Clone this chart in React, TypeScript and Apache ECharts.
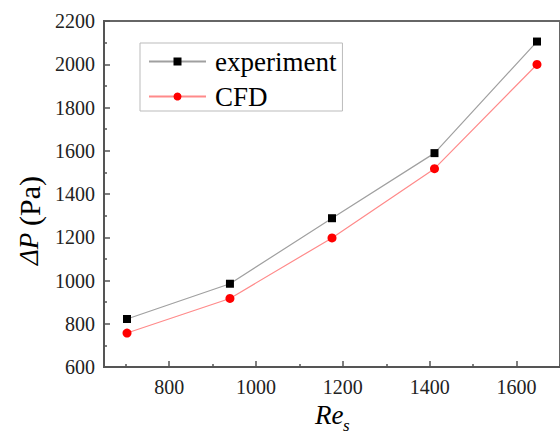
import React, { useEffect, useRef } from "react";
import * as echarts from "echarts";

const reValues = [703, 940, 1175, 1411, 1647];
const experiment = [822, 985, 1288, 1589, 2105];
const cfd = [757, 917, 1197, 1517, 1999];
const xMajorTicks = [800, 1000, 1200, 1400, 1600];
const xMinorTicks = [700, 900, 1100, 1300, 1500, 1700];

const FONT = "Liberation Serif";

export default function App() {
  const ref = useRef<HTMLDivElement>(null);
  useEffect(() => {
    if (!ref.current) return;
    const chart = echarts.init(ref.current, null, { renderer: "svg" });
    chart.setOption({
      animation: false,
      grid: {
        left: 104,
        top: 21,
        bottom: 67,
        right: -8,
        show: true,
        borderColor: "#666",
        borderWidth: 2,
        backgroundColor: "transparent",
      },
      legend: {
        orient: "vertical",
        left: 140,
        top: 43,
        padding: [5, 6, 1, 8],
        itemWidth: 57,
        itemHeight: 10,
        itemGap: 8,
        backgroundColor: "#fff",
        borderColor: "#bbb",
        borderWidth: 1,
        textStyle: {
          fontFamily: FONT,
          fontSize: 27,
          color: "#000",
          lineHeight: 24,
          padding: [0, 0, 0, 4],
        },
        data: ["experiment", "CFD"],
      },
      xAxis: [
        {
          type: "value",
          position: "bottom",
          min: 650,
          max: 1700,
          axisLine: { show: true, lineStyle: { color: "#555", width: 2 } },
          axisTick: {
            show: true,
            inside: true,
            length: 6,
            customValues: xMajorTicks,
            lineStyle: { color: "#555", width: 1.5 },
          },
          axisLabel: {
            customValues: xMajorTicks,
            formatter: (v: number) => String(v),
            fontFamily: FONT,
            fontSize: 20,
            color: "#222",
            margin: 10,
          },
          splitLine: { show: false },
        },
        {
          type: "value",
          position: "bottom",
          min: 650,
          max: 1700,
          axisLine: { show: false },
          axisTick: {
            show: true,
            inside: true,
            length: 3,
            customValues: xMinorTicks,
            lineStyle: { color: "#555", width: 1.5 },
          },
          axisLabel: { show: false },
          splitLine: { show: false },
        },
      ],
      yAxis: {
        type: "value",
        min: 600,
        max: 2200,
        interval: 200,
        axisLine: { show: true, lineStyle: { color: "#555", width: 2 } },
        axisTick: {
          show: true,
          inside: true,
          length: 6,
          lineStyle: { color: "#555", width: 1.5 },
        },
        minorTick: {
          show: true,
          splitNumber: 2,
          length: 3,
          lineStyle: { color: "#555", width: 1.5 },
        },
        axisLabel: {
          formatter: (v: number) => String(v),
          fontFamily: FONT,
          fontSize: 20,
          color: "#222",
          margin: 9,
        },
        splitLine: { show: false },
        minorSplitLine: { show: false },
      },
      series: [
        {
          name: "experiment",
          type: "line",
          xAxisIndex: 0,
          data: reValues.map((x, i) => [x, experiment[i]]),
          symbol: "rect",
          symbolSize: 8,
          itemStyle: { color: "#000" },
          lineStyle: { color: "#a0a0a0", width: 1.2 },
        },
        {
          name: "CFD",
          type: "line",
          xAxisIndex: 0,
          data: reValues.map((x, i) => [x, cfd[i]]),
          symbol: "circle",
          symbolSize: 9,
          itemStyle: { color: "#ff0000" },
          lineStyle: { color: "#ff8a8a", width: 1.2 },
        },
      ],
      graphic: [
        {
          type: "text",
          x: 15,
          y: 265,
          rotation: Math.PI / 2,
          style: {
            text: "ΔP",
            fontFamily: FONT,
            fontStyle: "italic",
            fontSize: 27,
            fill: "#000",
          },
        },
        {
          type: "text",
          x: 14,
          y: 226,
          rotation: Math.PI / 2,
          style: {
            text: "(Pa)",
            fontFamily: FONT,
            fontSize: 30,
            fill: "#000",
          },
        },
        {
          type: "text",
          x: 315,
          y: 401,
          style: {
            text: "Re",
            fontFamily: FONT,
            fontStyle: "italic",
            fontSize: 27,
            fill: "#000",
          },
        },
        {
          type: "text",
          x: 343,
          y: 417,
          style: {
            text: "s",
            fontFamily: FONT,
            fontStyle: "italic",
            fontSize: 17,
            fill: "#000",
          },
        },
      ],
    });
    return () => chart.dispose();
  }, []);
  return <div ref={ref} style={{ width: 560, height: 434, position: "absolute", left: 0, top: 0 }} />;
}
